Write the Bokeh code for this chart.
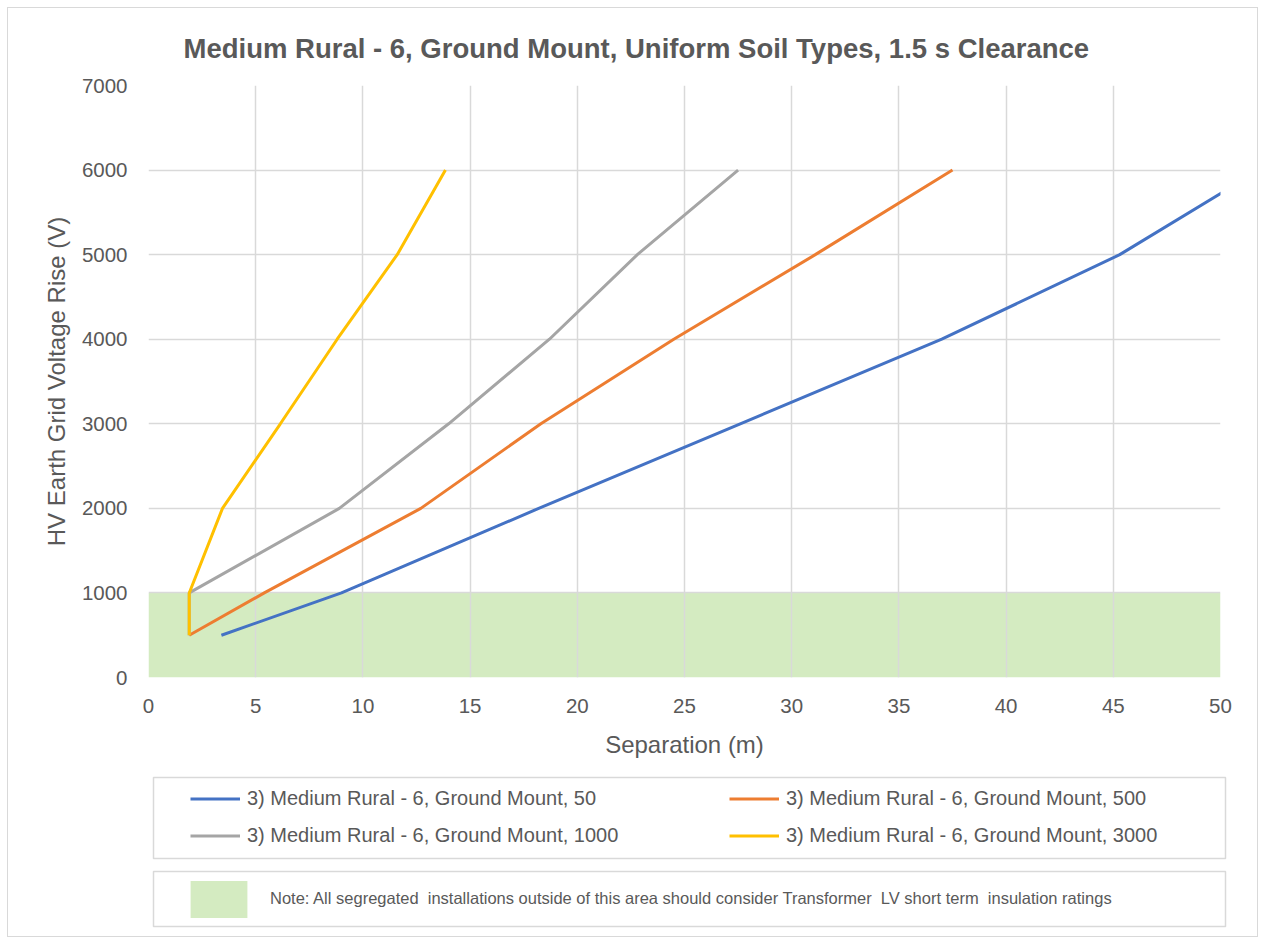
from bokeh.plotting import figure
from bokeh.layouts import column
from bokeh.models import Range1d, FixedTicker, Legend, LegendItem
from bokeh.embed import file_html
from bokeh.resources import INLINE

TITLE = "Medium Rural - 6, Ground Mount, Uniform Soil Types, 1.5 s Clearance"
X_LABEL = "Separation (m)"
Y_LABEL = "HV Earth Grid Voltage Rise (V)"

VOLTAGE = [500, 1000, 2000, 3000, 4000, 5000, 6000]
SEP_50 = [3.4, 9.0, 18.2, 27.6, 37.0, 45.3, 51.8]
SEP_500 = [1.9, 5.4, 12.7, 18.3, 24.5, 31.1, 37.5]
SEP_1000 = [1.9, 1.9, 8.9, 14.0, 18.7, 22.8, 27.5]
SEP_3000 = [1.9, 1.9, 3.45, 6.15, 8.8, 11.6, 13.85]

SERIES_NAMES = [
    "3) Medium Rural - 6, Ground Mount, 50",
    "3) Medium Rural - 6, Ground Mount, 500",
    "3) Medium Rural - 6, Ground Mount, 1000",
    "3) Medium Rural - 6, Ground Mount, 3000",
]
SERIES_COLORS = ["#4472C4", "#ED7D31", "#A5A5A5", "#FFC000"]

SHADE_LEFT = [0]
SHADE_RIGHT = [50]
SHADE_BOTTOM = [0]
SHADE_TOP = [1000]
NOTE = ("Note: All segregated  installations outside of this area should consider "
        "Transformer  LV short term  insulation ratings")

X_TICKS = [0, 5, 10, 15, 20, 25, 30, 35, 40, 45, 50]
Y_TICKS = [0, 1000, 2000, 3000, 4000, 5000, 6000, 7000]

FONT = "Liberation Sans"
TEXT_COLOR = "#595959"
GRID_COLOR = "#d9d9d9"
SHADE_COLOR = "#d4ebc1"
NAN = float("nan")

W = 1249
H1 = 762
H2 = 166

# ---------------- main chart ----------------
p = figure(width=W, height=H1, x_range=Range1d(0, 50), y_range=Range1d(0, 7000),
           output_backend="svg", toolbar_location=None,
           min_border_left=140, min_border_right=37, min_border_top=77, min_border_bottom=93,
           title=TITLE)
p.frame_align = False
p.outline_line_color = None
p.background_fill_color = "white"
p.border_fill_color = "white"

p.title.align = "left"
p.title.offset = 35
p.title.standoff = 43
p.title.text_font = FONT
p.title.text_font_size = "27.5px"
p.title.text_font_style = "bold"
p.title.text_color = TEXT_COLOR

p.xaxis.ticker = FixedTicker(ticks=X_TICKS)
p.yaxis.ticker = FixedTicker(ticks=Y_TICKS)
p.xgrid.ticker = FixedTicker(ticks=X_TICKS)
p.ygrid.ticker = FixedTicker(ticks=Y_TICKS)
p.grid.grid_line_color = GRID_COLOR
p.grid.grid_line_width = 1.5

for ax in (p.xaxis, p.yaxis):
    ax.axis_line_color = None
    ax.major_tick_line_color = None
    ax.minor_tick_line_color = None
    ax.major_label_text_font = FONT
    ax.major_label_text_font_size = "20.5px"
    ax.major_label_text_color = TEXT_COLOR
    ax.axis_label_text_font = FONT
    ax.axis_label_text_font_size = "24px"
    ax.axis_label_text_font_style = "normal"
    ax.axis_label_text_color = TEXT_COLOR

p.xaxis.axis_label = X_LABEL
p.yaxis.axis_label = Y_LABEL
p.xaxis.major_label_standoff = 15
p.xaxis.axis_label_standoff = 15
p.yaxis.major_label_standoff = 15
p.yaxis.axis_label_standoff = 9

p.quad(left=SHADE_LEFT, right=SHADE_RIGHT, bottom=SHADE_BOTTOM, top=SHADE_TOP,
       fill_color=SHADE_COLOR, line_color=None, level="image")

for xs, color in zip([SEP_50, SEP_500, SEP_1000, SEP_3000], SERIES_COLORS):
    p.line(xs, VOLTAGE, line_color=color, line_width=3)

# ---------------- legend area ----------------
p2 = figure(width=W, height=H2, x_range=Range1d(0, W), y_range=Range1d(H2, 0),
            output_backend="svg", toolbar_location=None,
            x_axis_type=None, y_axis_type=None,
            min_border_left=0, min_border_right=0, min_border_top=0, min_border_bottom=0)
p2.frame_align = False
p2.outline_line_color = None
p2.grid.visible = False
p2.background_fill_color = "white"
p2.border_fill_color = "white"

# legend frames (layout, in pixels of this panel)
BOX_LEFT = [145, 145]
BOX_RIGHT = [1217, 1217]
BOX_TOP = [7, 101]
BOX_BOTTOM = [88, 156]
p2.quad(left=BOX_LEFT, right=BOX_RIGHT, top=BOX_TOP, bottom=BOX_BOTTOM,
        fill_alpha=0, line_color=GRID_COLOR, line_width=1.5)

# legend swatch renderers (no visible data)
swatches = [p2.line(x=[NAN, NAN], y=[NAN, NAN], line_color=c, line_width=3) for c in SERIES_COLORS]
shade_swatch = p2.quad(left=[NAN], right=[NAN], top=[NAN], bottom=[NAN],
                       fill_color=SHADE_COLOR, line_color=None)

items = [LegendItem(label=name, renderers=[r]) for name, r in zip(SERIES_NAMES, swatches)]
leg = Legend(items=items, orientation="horizontal", ncols=2, location=(182, 82),
             label_text_font=FONT, label_text_font_size="20px", label_text_color=TEXT_COLOR,
             label_height=37, glyph_height=37, glyph_width=50, label_standoff=7,
             label_width=482, spacing=0, padding=0, margin=0,
             border_line_alpha=0, background_fill_alpha=0)
p2.add_layout(leg, "center")

leg2 = Legend(items=[LegendItem(label=NOTE, renderers=[shade_swatch])], location=(175, 14.5),
              label_text_font=FONT, label_text_font_size="16.5px", label_text_color=TEXT_COLOR,
              label_height=46, glyph_height=46, glyph_width=71, label_standoff=16,
              spacing=0, padding=0, margin=0,
              border_line_alpha=0, background_fill_alpha=0)
p2.add_layout(leg2, "center")

root = column(p, p2, spacing=0, margin=(7, 0, 0, 7),
              styles={"border": "1px solid #d9d9d9", "background-color": "white"})

open("out.html", "w").write(file_html(root, INLINE))
